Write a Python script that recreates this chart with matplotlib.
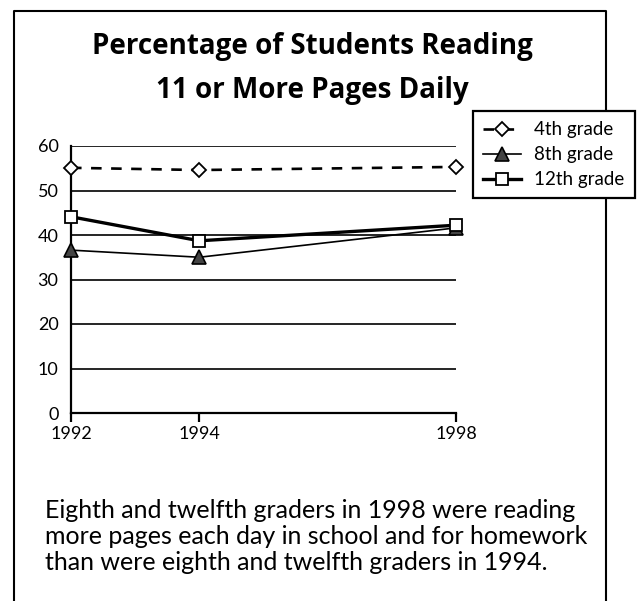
import matplotlib
matplotlib.use("Agg")
import matplotlib.pyplot as plt
from matplotlib.lines import Line2D

years = [1992, 1994, 1998]
grade4 = [55.1, 54.6, 55.3]
grade8 = [36.6, 35.0, 41.6]
grade12 = [44.1, 38.7, 42.2]
series_labels = ["4th grade", "8th grade", "12th grade"]
yticks = [0, 10, 20, 30, 40, 50, 60]
title_lines = ["Percentage of Students Reading", "11 or More Pages Daily"]
caption_lines = ["Eighth and twelfth graders in 1998 were reading",
                 "more pages each day in school and for homework",
                 "than were eighth and twelfth graders in 1994."]

plt.rcParams['font.family'] = ['Lato', 'DejaVu Sans']

W, H = 641, 601
fig = plt.figure(figsize=(W / 100, H / 100), dpi=100)

def fx(px):
    return px / W

def fy(py):
    return 1 - py / H

# outer frame (left, top, right; open at bottom)
fig.add_artist(Line2D([fx(14), fx(14), fx(606), fx(606)],
                      [fy(601), fy(11), fy(11), fy(601)],
                      color='black', lw=1.5, transform=fig.transFigure))

for txt, base in zip(title_lines, [54, 98]):
    fig.text(fx(312), fy(base), txt, ha='center', va='baseline', fontsize=20,
             fontweight='bold', family=['Open Sans', 'DejaVu Sans'])

ax = fig.add_axes([fx(71), fy(413), fx(456) - fx(71), fy(146) - fy(413)])
ax.set_xlim(1992, 1998)
ax.set_ylim(0, 60)
for s in ['top', 'right']:
    ax.spines[s].set_visible(False)
ax.spines['left'].set_linewidth(1.6)
ax.spines['bottom'].set_linewidth(1.6)
for y in yticks[1:]:
    ax.axhline(y, color='black', lw=1.2, zorder=1)
ax.set_yticks(yticks)
ax.set_xticks(years)
ax.tick_params(axis='y', length=0, labelsize=13, pad=9)
ax.tick_params(axis='x', length=6.5, width=1.6, direction='out', labelsize=13, pad=3)

ax.plot(years, grade4, ls=(0, (4, 3.6)), lw=1.9, color='black', marker='D',
        ms=7, mfc='white', mec='black', mew=1.3, clip_on=False, zorder=4,
        label=series_labels[0])
ax.plot(years, grade8, ls='-', lw=1.2, color='black', marker='^', ms=10,
        mfc='#444444', mec='black', mew=1.2, clip_on=False, zorder=3,
        label=series_labels[1])
ax.plot(years, grade12, ls='-', lw=2.4, color='black', marker='s', ms=9,
        mfc='white', mec='black', mew=1.3, clip_on=False, zorder=3,
        label=series_labels[2])

leg = fig.legend(loc='upper left', bbox_to_anchor=(fx(473), fy(111)),
                 bbox_transform=fig.transFigure, frameon=True, fancybox=False,
                 edgecolor='black', fontsize=13.5, handlelength=2.0,
                 borderpad=0.55, labelspacing=0.42, handletextpad=0.7,
                 borderaxespad=0)
leg.get_frame().set_linewidth(1.6)
leg.get_frame().set_facecolor('white')
leg.get_frame().set_alpha(1)

for txt, base in zip(caption_lines, [518, 544, 570]):
    fig.text(fx(45), fy(base), txt, ha='left', va='baseline', fontsize=18)

fig.savefig("out.png", dpi=100, facecolor='white')
